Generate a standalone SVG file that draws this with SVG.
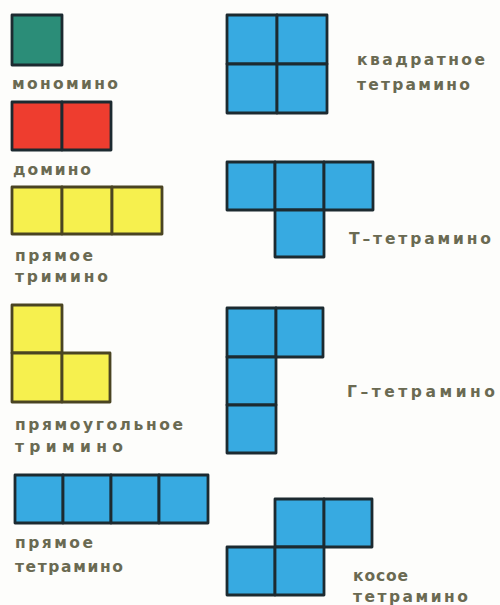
<svg xmlns="http://www.w3.org/2000/svg" width="500" height="605" viewBox="0 0 500 605">
<style>
.bg{fill:#fdfdfb}
.c{stroke:#1c2a30;stroke-width:2.8;stroke-linejoin:round}
.teal{fill:#2b8d78}
.red{fill:#ee3d2f}
.yel{fill:#f6f04e;stroke:#4a4422}
.blue{fill:#37aae1}
.t{font-family:"DejaVu Sans","Liberation Sans",sans-serif;font-size:15.5px;font-weight:bold;fill:#6a6a52;letter-spacing:2px}
</style>
<rect class="bg" x="0" y="0" width="500" height="605"/>
<g id="monomino">
<rect class="c teal" x="12" y="15" width="50" height="50"/>
<text class="t" x="12" y="89" textLength="108" lengthAdjust="spacing">мономино</text>
</g>
<g id="domino">
<rect class="c red" x="12" y="102" width="50" height="48"/>
<rect class="c red" x="62" y="102" width="49" height="48"/>
<text class="t" x="13" y="175" textLength="80" lengthAdjust="spacing">домино</text>
</g>
<g id="straight-tromino">
<rect class="c yel" x="12" y="187" width="50" height="47"/>
<rect class="c yel" x="62" y="187" width="50" height="47"/>
<rect class="c yel" x="112" y="187" width="50" height="47"/>
<text class="t" x="15" y="261" textLength="80" lengthAdjust="spacing">прямое</text>
<text class="t" x="15" y="282" textLength="95" lengthAdjust="spacing">тримино</text>
</g>
<g id="l-tromino">
<rect class="c yel" x="12" y="305" width="50" height="48"/>
<rect class="c yel" x="12" y="353" width="50" height="49"/>
<rect class="c yel" x="62" y="353" width="48" height="49"/>
<text class="t" x="15" y="430" textLength="170" lengthAdjust="spacing">прямоугольное</text>
<text class="t" x="15" y="452" textLength="110" lengthAdjust="spacing">тримино</text>
</g>
<g id="straight-tetromino">
<rect class="c blue" x="15" y="475" width="48" height="48"/>
<rect class="c blue" x="63" y="475" width="48" height="48"/>
<rect class="c blue" x="111" y="475" width="48" height="48"/>
<rect class="c blue" x="159" y="475" width="49" height="48"/>
<text class="t" x="15" y="548" textLength="80" lengthAdjust="spacing">прямое</text>
<text class="t" x="15" y="572" textLength="110" lengthAdjust="spacing">тетрамино</text>
</g>
<g id="square-tetromino">
<rect class="c blue" x="227" y="15" width="50" height="49"/>
<rect class="c blue" x="277" y="15" width="50" height="49"/>
<rect class="c blue" x="227" y="64" width="50" height="49"/>
<rect class="c blue" x="277" y="64" width="50" height="49"/>
<text class="t" x="357" y="65" textLength="130" lengthAdjust="spacing">квадратное</text>
<text class="t" x="357" y="90" textLength="115" lengthAdjust="spacing">тетрамино</text>
</g>
<g id="t-tetromino">
<rect class="c blue" x="227" y="162" width="48" height="48"/>
<rect class="c blue" x="275" y="162" width="49" height="48"/>
<rect class="c blue" x="324" y="162" width="49" height="48"/>
<rect class="c blue" x="275" y="210" width="49" height="47"/>
<text class="t" x="349" y="244" textLength="144" lengthAdjust="spacing">Т–тетрамино</text>
</g>
<g id="g-tetromino">
<rect class="c blue" x="227" y="308" width="49" height="49"/>
<rect class="c blue" x="276" y="308" width="47" height="49"/>
<rect class="c blue" x="227" y="357" width="49" height="48"/>
<rect class="c blue" x="227" y="405" width="49" height="48"/>
<text class="t" x="347" y="397" textLength="150" lengthAdjust="spacing">Г–тетрамино</text>
</g>
<g id="skew-tetromino">
<rect class="c blue" x="275" y="499" width="49" height="48"/>
<rect class="c blue" x="324" y="499" width="48" height="48"/>
<rect class="c blue" x="227" y="547" width="48" height="48"/>
<rect class="c blue" x="275" y="547" width="49" height="48"/>
<text class="t" x="353" y="581" textLength="57" lengthAdjust="spacing">косое</text>
<text class="t" x="353" y="602" textLength="117" lengthAdjust="spacing">тетрамино</text>
</g>
<g id="connectors"/>
</svg>
